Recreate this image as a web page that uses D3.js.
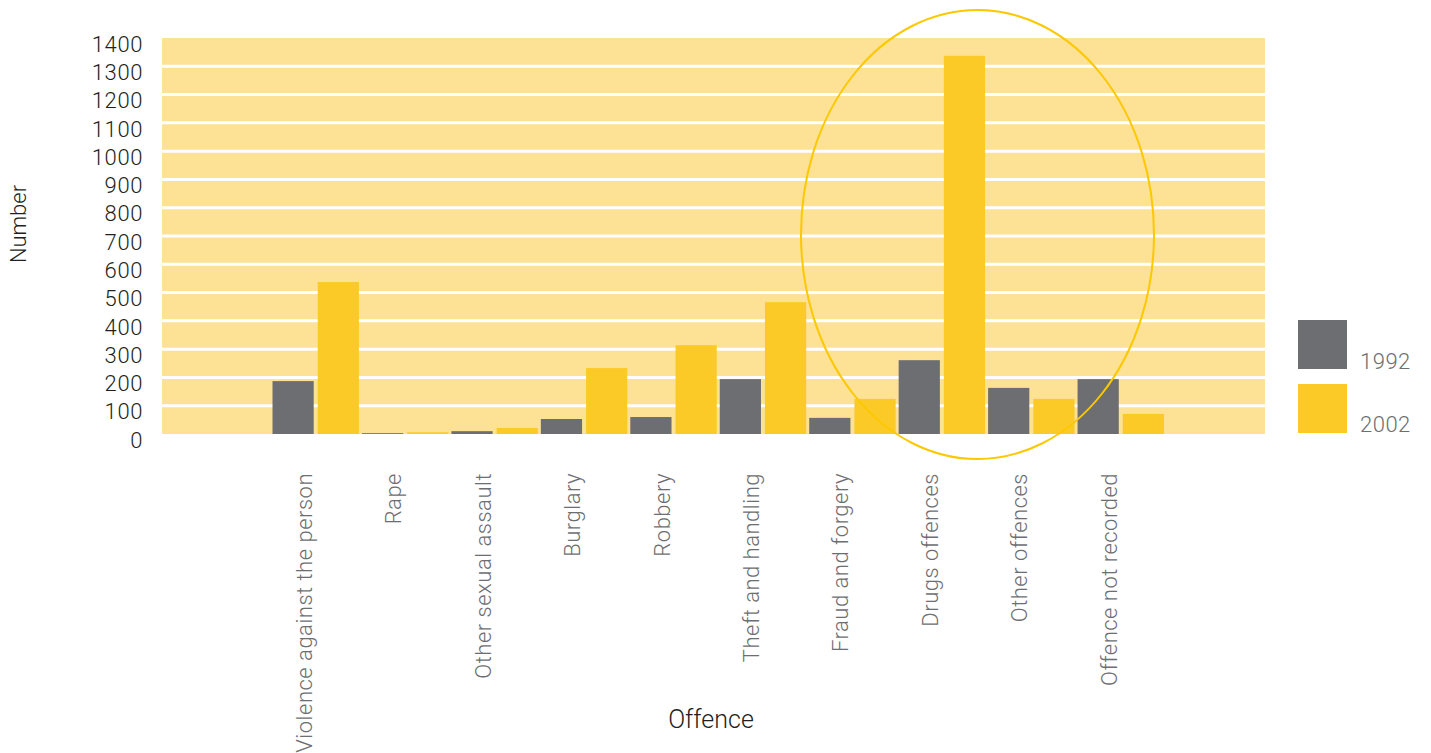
<!DOCTYPE html>
<html>
<head>
<meta charset="utf-8">
<script src="https://cdn.jsdelivr.net/npm/d3@7"></script>
<style>
  html, body { margin: 0; padding: 0; background: #fff; }
  svg { display: block; font-family: Roboto, "Liberation Sans", Arial, sans-serif; font-weight: 300; }
</style>
</head>
<body>
<svg id="chart" width="1431" height="753"></svg>
<script>
const categories = ["Violence against the person", "Rape", "Other sexual assault", "Burglary", "Robbery",
  "Theft and handling", "Fraud and forgery", "Drugs offences", "Other offences", "Offence not recorded"];
const seriesNames = ["1992", "2002"];
const values1992 = [187, 3, 10, 53, 60, 194, 57, 261, 163, 194];
const values2002 = [537, 6, 21, 233, 314, 466, 124, 1337, 124, 71];
const yTicks = [0, 100, 200, 300, 400, 500, 600, 700, 800, 900, 1000, 1100, 1200, 1300, 1400];
const xTitle = "Offence";
const yTitle = "Number";

const colors = { "1992": "#6d6e71", "2002": "#fbca26" };
const bg = "#fde194";
const FONT = 'Roboto, "Liberation Sans", Arial, sans-serif';

const svg = d3.select("#chart");
const plot = { left: 162, right: 1265, top: 38, bottom: 434 };

const y = d3.scaleLinear().domain([0, 1400]).range([plot.bottom, plot.top]);
const x = d3.scaleBand().domain(categories).range([272.5, 1164]).paddingInner(3 / 89).paddingOuter(0);
const xs = d3.scaleBand().domain(seriesNames).range([0, x.bandwidth()]).paddingInner(4 / 45).paddingOuter(0);

// background
svg.append("rect").attr("x", plot.left).attr("y", plot.top)
  .attr("width", plot.right - plot.left).attr("height", plot.bottom - plot.top).attr("fill", bg);

// gridlines
svg.append("g").selectAll("line").data(yTicks.filter(t => t > 0 && t < 1400)).join("line")
  .attr("x1", plot.left).attr("x2", plot.right)
  .attr("y1", d => y(d)).attr("y2", d => y(d))
  .attr("stroke", "#fff").attr("stroke-width", 3);

// y axis
const yAxis = d3.axisLeft(y).tickValues(yTicks).tickSize(0).tickPadding(0).tickFormat(d3.format("d"));
const gy = svg.append("g").attr("transform", "translate(143,0)").call(yAxis)
  .attr("font-family", FONT).attr("font-size", 22);
gy.select(".domain").remove();
gy.selectAll("text").attr("fill", "#231f20").attr("dy", "0.6em")
  .style("font-weight", 300).style("letter-spacing", "0.6px");

// bars
const data = categories.map((c, i) => ({ cat: c, vals: [{ s: "1992", v: values1992[i] }, { s: "2002", v: values2002[i] }] }));
const groups = svg.append("g").selectAll("g").data(data).join("g")
  .attr("transform", d => `translate(${x(d.cat)},0)`);
groups.selectAll("rect").data(d => d.vals).join("rect")
  .attr("x", d => xs(d.s)).attr("width", xs.bandwidth())
  .attr("y", d => y(d.v)).attr("height", d => y(0) - y(d.v))
  .attr("fill", d => colors[d.s]);

// x axis labels
const xAxis = d3.axisBottom(x).tickSize(0).tickPadding(0);
const gx = svg.append("g").attr("transform", `translate(0,473)`).call(xAxis)
  .attr("font-family", FONT).attr("font-size", 22);
gx.select(".domain").remove();
gx.selectAll(".tick text")
  .attr("transform", "rotate(-90)")
  .attr("text-anchor", "end")
  .attr("x", 0).attr("y", -4).attr("dy", 0)
  .attr("fill", "#6d6e71")
  .style("font-weight", 300).style("letter-spacing", "0.5px");

// ellipse highlight
svg.append("ellipse").attr("cx", 977.5).attr("cy", 234.5).attr("rx", 176.5).attr("ry", 224.5)
  .attr("fill", "none").attr("stroke", "#fcc800").attr("stroke-width", 2);

// legend
const legend = svg.append("g");
seriesNames.forEach((s, i) => {
  legend.append("rect").attr("x", 1298).attr("y", 320 + i * 64).attr("width", 49).attr("height", 49).attr("fill", colors[s]);
  legend.append("text").attr("x", 1360).attr("y", 369 + i * 63).text(s)
    .attr("font-size", 22).attr("fill", "#6d6e71").style("font-weight", 300).style("letter-spacing", "0.5px");
});

// axis titles
svg.append("text").attr("x", 711).attr("y", 728).attr("text-anchor", "middle")
  .attr("font-size", 25).attr("fill", "#231f20").style("font-weight", 300).text(xTitle);
svg.append("text").attr("transform", "translate(26,224) rotate(-90)").attr("text-anchor", "middle")
  .attr("font-size", 22).attr("fill", "#231f20").style("font-weight", 300).text(yTitle);
</script>
</body>
</html>
